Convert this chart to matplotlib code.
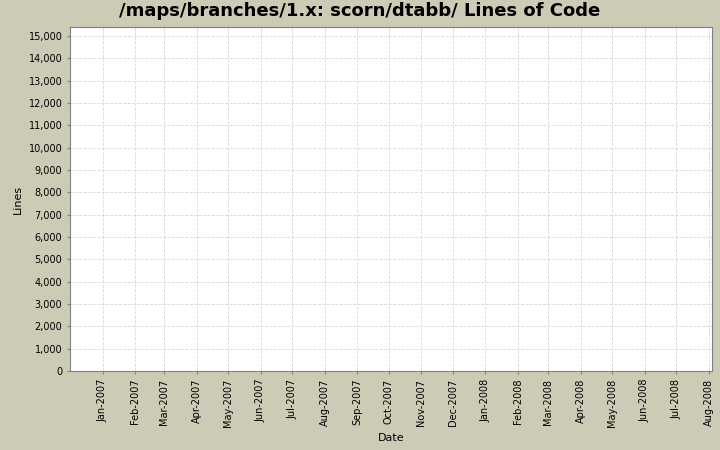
import matplotlib
matplotlib.use("Agg")
import matplotlib.pyplot as plt
import matplotlib.dates as mdates
import numpy as np

# data: flat line near the top
dates = np.array(["2006-12-12", "2008-07-26"], dtype="datetime64[D]")
lines = [15380, 15380]
tick_dates = np.arange(np.datetime64("2007-01"), np.datetime64("2008-09"), np.timedelta64(1, "M")).astype("datetime64[D]")

fig = plt.figure(figsize=(7.2, 4.5), dpi=100, facecolor="#cccbb6")
ax = fig.add_axes([70/720, 1-371/450, 642/720, 344/450])
ax.set_facecolor("white")
ax.plot(dates, lines, color="#c0504d", lw=1.5)

ax.set_xlim(np.datetime64("2006-12-01"), np.datetime64("2008-08-04"))
ax.set_ylim(0, 15400)
ax.set_yticks(range(0, 15001, 1000))
ax.yaxis.set_major_formatter(matplotlib.ticker.FuncFormatter(lambda v, p: f"{int(v):,}"))
ax.set_xticks(tick_dates)
ax.xaxis.set_major_formatter(mdates.DateFormatter("%b-%Y"))
plt.setp(ax.get_xticklabels(), rotation=90)
ax.tick_params(labelsize=7, length=2, color="gray")
ax.grid(True, color="#d8d8d8", ls="--", lw=0.6)
for s in ax.spines.values():
    s.set_color("gray")

ax.set_xlabel("Date", fontsize=8)
ax.set_ylabel("Lines", fontsize=8)
fig.suptitle("/maps/branches/1.x: scorn/dtabb/ Lines of Code", fontsize=13, fontweight="bold", y=0.995)

fig.savefig("out.png", dpi=100, facecolor=fig.get_facecolor())
